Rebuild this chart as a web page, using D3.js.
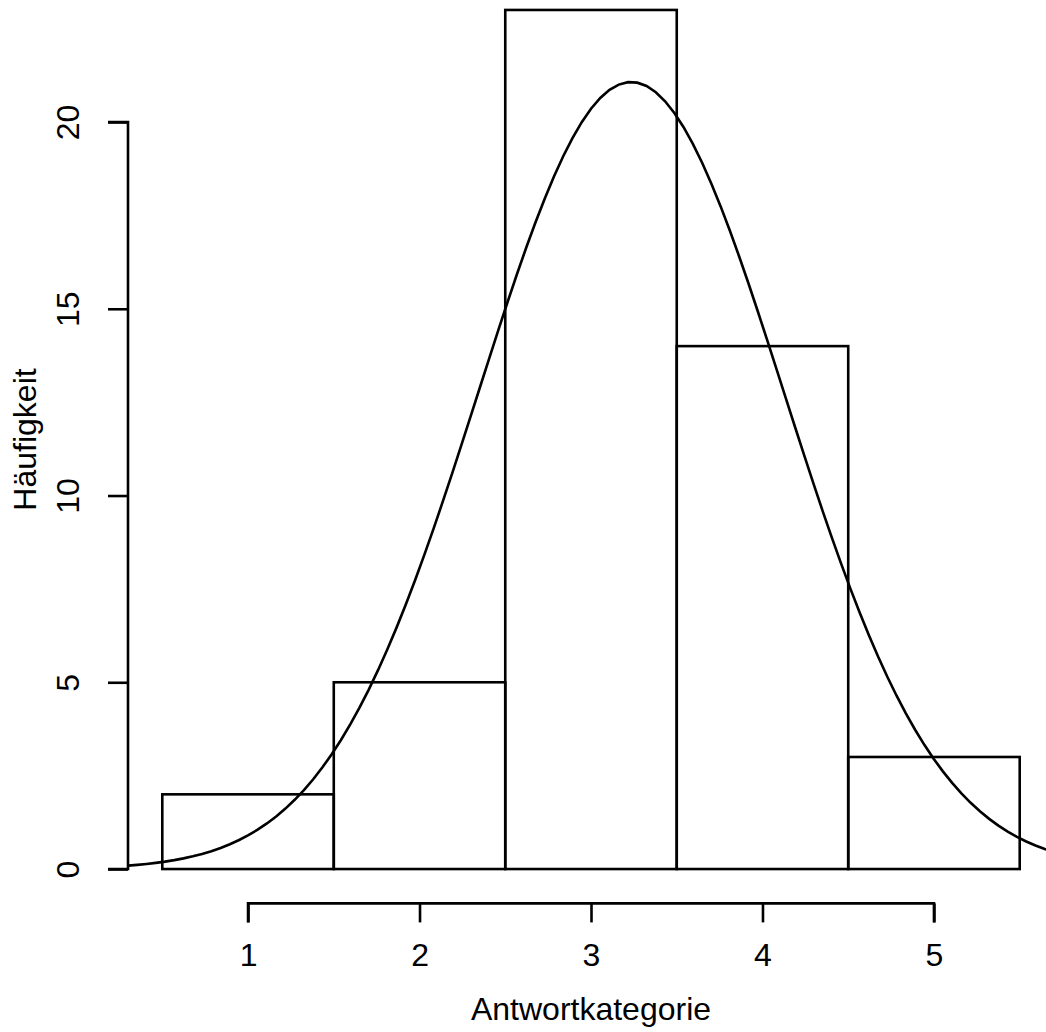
<!DOCTYPE html>
<html>
<head>
<meta charset="utf-8">
<script src="https://cdn.jsdelivr.net/npm/d3@7"></script>
<style>
  html, body { margin: 0; padding: 0; background: #fff; }
  svg { display: block; }
  text { font-family: "Liberation Sans", Arial, Helvetica, sans-serif; fill: #000; }
</style>
</head>
<body>
<svg id="chart" width="1046" height="1032"></svg>
<script>
// Histogram of answer categories (bins of width 1 centred on 1..5)
const binStarts = [0.5, 1.5, 2.5, 3.5, 4.5];
const binEnds   = [1.5, 2.5, 3.5, 4.5, 5.5];
const categories = [1, 2, 3, 4, 5];
const counts = [2, 5, 23, 14, 3];
const xTicks = [1, 2, 3, 4, 5];
const yTicks = [0, 5, 10, 15, 20];

// Sample statistics used for the fitted normal curve
const n = d3.sum(counts);
const mean = d3.sum(categories, (c, i) => c * counts[i]) / n;
const variance = d3.sum(categories, (c, i) => counts[i] * (c - mean) ** 2) / (n - 1);
const sd = Math.sqrt(variance);
const binWidth = 1;

const svg = d3.select("#chart");

// Plot region (user coordinates extended 4% past the data range)
const xDomain = [0.3, 5.7];
const yDomain = [-0.92, 23.92];
const x = d3.scaleLinear().domain(xDomain).range([128, 1054]);
const y = d3.scaleLinear().domain(yDomain).range([903.4, -24.4]);

const LW = 2.6;

svg.append("defs").append("clipPath").attr("id", "plotClip")
  .append("rect")
  .attr("x", x(xDomain[0])).attr("y", y(yDomain[1]))
  .attr("width", x(xDomain[1]) - x(xDomain[0]))
  .attr("height", y(yDomain[0]) - y(yDomain[1]));

// Bars
svg.append("g").attr("clip-path", "url(#plotClip)")
  .selectAll("rect").data(counts).join("rect")
  .attr("x", (d, i) => x(binStarts[i]))
  .attr("y", d => y(d))
  .attr("width", (d, i) => x(binEnds[i]) - x(binStarts[i]))
  .attr("height", d => y(0) - y(d))
  .attr("fill", "none")
  .attr("stroke", "#000")
  .attr("stroke-width", LW);

// Normal density scaled to counts
const dens = v => n * binWidth * Math.exp(-0.5 * ((v - mean) / sd) ** 2) / (sd * Math.sqrt(2 * Math.PI));
const xs = d3.range(101).map(k => xDomain[0] + k * (xDomain[1] - xDomain[0]) / 100);
svg.append("path")
  .attr("clip-path", "url(#plotClip)")
  .datum(xs)
  .attr("d", d3.line().x(v => x(v)).y(v => y(dens(v))))
  .attr("fill", "none")
  .attr("stroke", "#000")
  .attr("stroke-width", LW);

// X axis below the plot region
const xAxis = d3.axisBottom(x).tickValues(xTicks).tickSize(19).tickPadding(21).tickFormat(d3.format("d"));
const gx = svg.append("g").attr("transform", `translate(0, ${y(yDomain[0])})`).call(xAxis);
gx.select(".domain").attr("d", `M${x(xTicks[0])},19V0H${x(xTicks[xTicks.length - 1])}V19`)
  .attr("stroke", "#000").attr("stroke-width", LW).attr("fill", "none");
gx.selectAll(".tick line").attr("stroke", "#000").attr("stroke-width", LW);
gx.selectAll(".tick text").attr("font-size", 32).attr("font-family", "Liberation Sans, Arial, sans-serif").attr("fill", "#000");

// Y axis at the left edge of the plot region
const yAxis = d3.axisLeft(y).tickValues(yTicks).tickSize(20).tickFormat(d3.format("d"));
const gy = svg.append("g").attr("transform", `translate(${x(xDomain[0])}, 0)`).call(yAxis);
gy.select(".domain").attr("d", `M-20,${y(yTicks[0])}H0V${y(yTicks[yTicks.length - 1])}H-20`)
  .attr("stroke", "#000").attr("stroke-width", LW).attr("fill", "none");
gy.selectAll(".tick line").attr("stroke", "#000").attr("stroke-width", LW);
gy.selectAll(".tick text")
  .attr("font-size", 32).attr("font-family", "Liberation Sans, Arial, sans-serif").attr("fill", "#000")
  .attr("x", 0).attr("dy", null)
  .attr("text-anchor", "middle")
  .attr("transform", "translate(-39,0) rotate(-90) translate(0,-10)");

// Axis titles
const plotCx = (x(xDomain[0]) + x(xDomain[1])) / 2;
svg.append("text")
  .attr("x", plotCx).attr("y", 1020)
  .attr("text-anchor", "middle").attr("font-size", 32)
  .text("Antwortkategorie");

const plotCy = (y(yDomain[0]) + y(yDomain[1])) / 2;
svg.append("text")
  .attr("transform", `translate(36, ${plotCy}) rotate(-90)`)
  .attr("text-anchor", "middle").attr("font-size", 32)
  .text("Häufigkeit");
</script>
</body>
</html>
